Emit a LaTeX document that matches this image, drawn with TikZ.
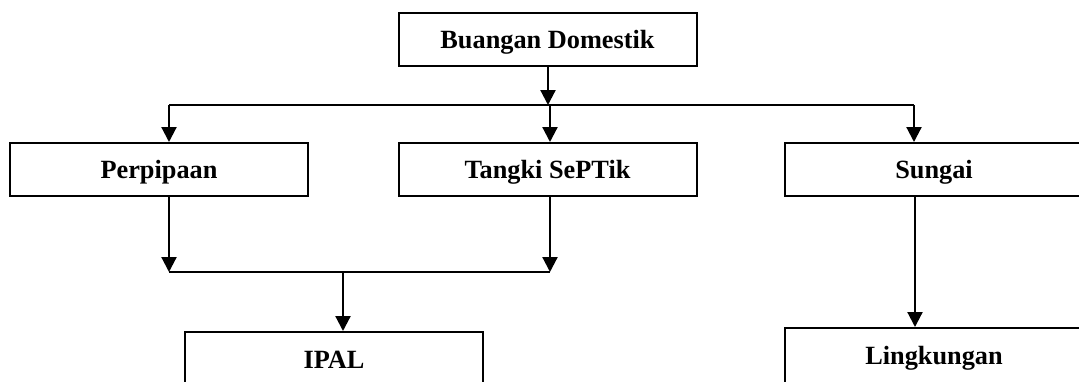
\documentclass[tikz,border=0pt]{standalone}
\usepackage{fontspec}
\setmainfont{Liberation Serif}
\usetikzlibrary{arrows.meta}
\begin{document}
\begin{tikzpicture}[x=1pt,y=-1pt,
  box/.style={draw,line width=2pt,minimum width=298pt,minimum height=53pt,inner sep=0pt,
    font=\bfseries\fontsize{26.3}{28}\selectfont,text height=17.4pt,text depth=0pt},
  conn/.style={line width=2.2pt},
  arr/.style={conn,-{Triangle[length=15pt,width=15pt]}}]
\clip (0,0) rectangle (1079,381);
\node[box] (top) at (547.5,39.5) {Buangan Domestik};
\node[box] (perp) at (159,169.5) {Perpipaan};
\node[box] (tank) at (547.5,169.5) {Tangki SePTik};
\node[box] (sungai) at (934,169.5) {Sungai};
\node[box,minimum height=56pt] (ipal) at (334,360) {IPAL};
\node[box,minimum height=56pt] (ling) at (934,356) {Lingkungan};
\coordinate (b1L) at (169,105);
\coordinate (b1M) at (548,105);
\coordinate (b1R) at (914,105);
\coordinate (b2L) at (169,272);
\coordinate (b2M) at (343,272);
\coordinate (b2R) at (550,272);
\draw[conn] (b1L) -- (b1R);
\draw[arr] (top.south -| b1M) -- (b1M);
\draw[arr] ([xshift=2pt]b1M) -- ([xshift=2pt]b1M |- tank.north);
\draw[arr] (b1L) -- (b1L |- perp.north);
\draw[arr] (b1R) -- (b1R |- sungai.north);
\draw[arr] (b2L |- perp.south) -- (b2L);
\draw[arr] (b2R |- tank.south) -- (b2R);
\draw[conn] (b2L) -- (b2R);
\draw[arr] (b2M) -- (b2M |- ipal.north);
\coordinate (s1) at (915,0);
\draw[arr] (s1 |- sungai.south) -- (s1 |- ling.north);
\end{tikzpicture}
\end{document}
